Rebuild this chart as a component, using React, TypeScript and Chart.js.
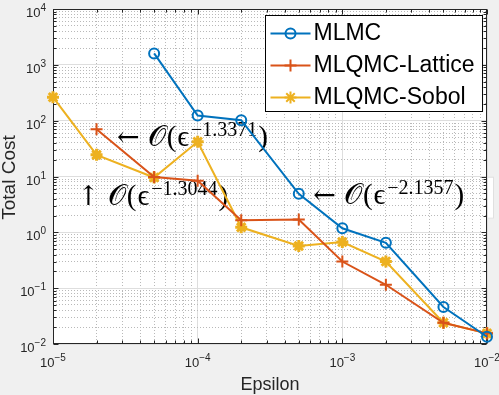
import React, { useEffect, useRef } from 'react';
import { Chart, registerables } from 'chart.js';
Chart.register(...registerables);

// ---------------- data ----------------
const MLMC_EPS = [5e-5, 1e-4, 2e-4, 5e-4, 1e-3, 2e-3, 5e-3, 1e-2];
const MLMC_COST = [1600, 124, 102, 4.9, 1.18, 0.65, 0.046, 0.0135];
const LATTICE_EPS = [2e-5, 5e-5, 1e-4, 2e-4, 5e-4, 1e-3, 2e-3, 5e-3, 1e-2];
const LATTICE_COST = [70, 9.8, 8.4, 1.65, 1.7, 0.3, 0.115, 0.024, 0.0155];
const SOBOL_EPS = [1e-5, 2e-5, 5e-5, 1e-4, 2e-4, 5e-4, 1e-3, 2e-3, 5e-3, 1e-2];
const SOBOL_COST = [263, 24.4, 9.6, 42, 1.23, 0.57, 0.67, 0.3, 0.024, 0.0155];

const SERIES_LABELS = ['MLMC', 'MLQMC-Lattice', 'MLQMC-Sobol'];
const SERIES_COLORS = ['#0072BD', '#D95319', '#EDB120'];
const SERIES_MARKERS = ['circle', 'cross', 'star'];

const X_EXP_MIN = -5;
const X_EXP_MAX = -2;
const Y_EXP_MIN = -2;
const Y_EXP_MAX = 4;
const X_LABEL = 'Epsilon';
const Y_LABEL = 'Total Cost';

const ANNOTATIONS = [
  { arrow: '\u2190', exponent: '\u22121.3371', eps: 2.77e-5, cost: 35 },
  { arrow: '\u2191', exponent: '\u22121.3044', eps: 1.47e-5, cost: 3.13 },
  { arrow: '\u2190', exponent: '\u22122.1357', eps: 6.3e-4, cost: 3.26 },
];

// ---------------- helpers ----------------
const AXIS_COLOR = '#262626';
const SANS = '"Liberation Sans", Arial, Helvetica, sans-serif';
const SERIF = '"Liberation Serif", "DejaVu Serif", serif';

function logTicks(minExp: number, maxExp: number) {
  const t: { value: number }[] = [];
  for (let e = minExp; e < maxExp; e++) {
    for (let s = 1; s < 10; s++) t.push({ value: parseFloat((s * Math.pow(10, e)).toPrecision(6)) });
  }
  t.push({ value: Math.pow(10, maxExp) });
  return t;
}
function isDecade(v: number) {
  const l = Math.log10(v);
  return Math.abs(l - Math.round(l)) < 1e-6;
}
function expText(e: number) {
  return e < 0 ? '\u2212' + Math.abs(e) : String(e);
}

function drawMarker(ctx: CanvasRenderingContext2D, style: string, x: number, y: number, r: number) {
  ctx.beginPath();
  if (style === 'circle') {
    ctx.arc(x, y, r, 0, Math.PI * 2);
  } else if (style === 'cross') {
    ctx.moveTo(x - r, y); ctx.lineTo(x + r, y);
    ctx.moveTo(x, y - r); ctx.lineTo(x, y + r);
  } else {
    const d = r * Math.SQRT1_2;
    ctx.moveTo(x - r, y); ctx.lineTo(x + r, y);
    ctx.moveTo(x, y - r); ctx.lineTo(x, y + r);
    ctx.moveTo(x - d, y - d); ctx.lineTo(x + d, y + d);
    ctx.moveTo(x - d, y + d); ctx.lineTo(x + d, y - d);
  }
  ctx.stroke();
}

const figurePlugin = {
  id: 'matlabFigure',
  beforeDraw(chart: any) {
    const { ctx, chartArea: a } = chart;
    ctx.save();
    ctx.fillStyle = '#ffffff';
    ctx.fillRect(a.left, a.top, a.right - a.left, a.bottom - a.top);
    ctx.restore();
  },
  beforeDatasetsDraw(chart: any) {
    const { ctx, chartArea: a, scales } = chart;
    const xs = scales.x, ys = scales.y;
    ctx.save();

    // annotations (behind the data lines)
    ANNOTATIONS.forEach((an, i) => {
      let cx = xs.getPixelForValue(an.eps);
      const by = ys.getPixelForValue(an.cost);
      ctx.fillStyle = '#000';
      ctx.textBaseline = 'alphabetic';
      ctx.textAlign = 'left';
      const parts: [string, string, number, number][] = [
        [an.arrow, `27px "DejaVu Serif", serif`, 0, 8],
        ['\uD835\uDCAA', `29px ${SERIF}`, 0, 1],
        ['(', `29px ${SERIF}`, 0, 1],
        ['\u03F5', `29px ${SERIF}`, 0, 2],
        [an.exponent, `20px ${SERIF}`, -10, 1],
        [')', `29px ${SERIF}`, 0, 0],
      ];
      parts.forEach(([s, f, dy, gap]) => {
        ctx.font = f;
        ctx.fillText(s, cx, by + dy);
        cx += ctx.measureText(s).width + gap;
      });
      if (i === 2) {
        // the text box sticks out past the right axis edge
        ctx.fillStyle = '#ffffff';
        ctx.fillRect(a.right + 1, by - 26, 6, 41);
        ctx.strokeStyle = '#e0e0e0';
        ctx.lineWidth = 1;
        ctx.strokeRect(a.right + 0.5, by - 26.5, 6, 41);
      }
    });

    // axes box
    ctx.strokeStyle = AXIS_COLOR;
    ctx.lineWidth = 1;
    const L = Math.round(a.left) + 0.5, R = Math.round(a.right) - 0.5;
    const T = Math.round(a.top) + 0.5, B = Math.round(a.bottom) - 0.5;
    ctx.strokeRect(L, T, R - L, B - T);

    // inner tick marks on all four sides
    ctx.beginPath();
    xs.ticks.forEach((t: any) => {
      const p = Math.round(xs.getPixelForValue(t.value)) + 0.5;
      const len = isDecade(t.value) ? 5 : 3;
      ctx.moveTo(p, B); ctx.lineTo(p, B - len);
      ctx.moveTo(p, T); ctx.lineTo(p, T + len);
    });
    ys.ticks.forEach((t: any) => {
      const p = Math.round(ys.getPixelForValue(t.value)) + 0.5;
      const len = isDecade(t.value) ? 5 : 3;
      ctx.moveTo(L, p); ctx.lineTo(L + len, p);
      ctx.moveTo(R, p); ctx.lineTo(R - len, p);
    });
    ctx.stroke();

    // tick labels
    ctx.fillStyle = AXIS_COLOR;
    ctx.textBaseline = 'alphabetic';
    ctx.textAlign = 'left';
    for (let e = X_EXP_MIN; e <= X_EXP_MAX; e++) {
      const p = xs.getPixelForValue(Math.pow(10, e));
      ctx.font = `13px ${SANS}`;
      const w1 = ctx.measureText('10').width;
      ctx.font = `10px ${SANS}`;
      const w2 = ctx.measureText(expText(e)).width;
      const x0 = p - (w1 + w2) / 2;
      ctx.font = `13px ${SANS}`;
      ctx.fillText('10', x0, a.bottom + 23);
      ctx.font = `10px ${SANS}`;
      ctx.fillText(expText(e), x0 + w1, a.bottom + 17);
    }
    for (let e = Y_EXP_MIN; e <= Y_EXP_MAX; e++) {
      const p = ys.getPixelForValue(Math.pow(10, e));
      ctx.font = `10px ${SANS}`;
      const w2 = ctx.measureText(expText(e)).width;
      ctx.font = `13px ${SANS}`;
      const w1 = ctx.measureText('10').width;
      const xr = a.left - 7;
      ctx.fillText('10', xr - w2 - w1, p + 8);
      ctx.font = `10px ${SANS}`;
      ctx.fillText(expText(e), xr - w2, p + 2);
    }

    // axis titles
    ctx.font = `18px ${SANS}`;
    ctx.textAlign = 'center';
    ctx.fillText(X_LABEL, (a.left + a.right) / 2, a.bottom + 46);
    ctx.save();
    ctx.font = `19px ${SANS}`;
    ctx.translate(a.left - 38, (a.top + a.bottom) / 2 + 1);
    ctx.rotate(-Math.PI / 2);
    ctx.fillText(Y_LABEL, 0, 0);
    ctx.restore();

    ctx.restore();
  },
  afterDraw(chart: any) {
    const { ctx, chartArea: a } = chart;
    const ds = chart.data.datasets;
    ctx.save();
    ctx.font = `23px ${SANS}`;
    const maxW = Math.max(...ds.map((d: any) => ctx.measureText(d.label).width));
    const rowH = 32;
    const boxW = 48 + maxW + 8;
    const boxH = rowH * ds.length;
    const bx = Math.round(a.right - 5 - boxW) + 0.5;
    const by = Math.round(a.top + 6) + 0.5;
    ctx.fillStyle = '#ffffff';
    ctx.fillRect(bx, by, boxW, boxH);
    ctx.strokeStyle = '#000';
    ctx.lineWidth = 1;
    ctx.strokeRect(bx, by, boxW, boxH);
    ds.forEach((d: any, i: number) => {
      const cy = by + rowH * i + rowH / 2 + 2;
      ctx.strokeStyle = d.borderColor;
      ctx.lineWidth = 2;
      ctx.beginPath();
      ctx.moveTo(bx + 5, cy); ctx.lineTo(bx + 45, cy);
      ctx.stroke();
      drawMarker(ctx, d.pointStyle, bx + 25, cy, d.pointStyle === 'circle' ? 5 : 6);
      ctx.fillStyle = '#000';
      ctx.textBaseline = 'middle';
      ctx.textAlign = 'left';
      ctx.fillText(d.label, bx + 48, cy);
    });
    ctx.restore();
  },
};

function makeSeries(i: number, xs: number[], ys: number[]) {
  const style = SERIES_MARKERS[i];
  return {
    label: SERIES_LABELS[i],
    data: xs.map((x, k) => ({ x, y: ys[k] })),
    borderColor: SERIES_COLORS[i],
    backgroundColor: 'rgba(0,0,0,0)',
    borderWidth: 2,
    pointStyle: style,
    pointRadius: style === 'circle' ? 5 : 6,
    pointBorderWidth: style === 'star' ? 3 : 2,
    pointBorderColor: SERIES_COLORS[i],
    pointBackgroundColor: 'rgba(0,0,0,0)',
    tension: 0,
    clip: false as any,
  };
}

function gridOpts() {
  return {
    color: (c: any) => (c.tick && isDecade(c.tick.value) ? 'rgb(222,222,222)' : 'rgb(185,185,185)'),
    lineWidth: 1,
    drawTicks: false,
  };
}
function borderOpts() {
  return {
    display: false,
    dash: (c: any) => (c.tick && isDecade(c.tick.value) ? [] : [1, 2]),
  };
}

export default function App() {
  const ref = useRef<HTMLCanvasElement>(null);
  useEffect(() => {
    document.body.style.margin = '0';
    const chart = new Chart(ref.current as HTMLCanvasElement, {
      type: 'line',
      data: {
        datasets: [
          makeSeries(0, MLMC_EPS, MLMC_COST),
          makeSeries(1, LATTICE_EPS, LATTICE_COST),
          makeSeries(2, SOBOL_EPS, SOBOL_COST),
        ] as any,
      },
      options: {
        responsive: false,
        animation: false,
        devicePixelRatio: 1,
        layout: { padding: { left: 53, right: 12, top: 7, bottom: 51 } },
        plugins: { legend: { display: false }, tooltip: { enabled: false } },
        scales: {
          x: {
            type: 'logarithmic',
            min: Math.pow(10, X_EXP_MIN),
            max: Math.pow(10, X_EXP_MAX),
            afterBuildTicks: (s: any) => { s.ticks = logTicks(X_EXP_MIN, X_EXP_MAX); },
            ticks: { display: false },
            grid: gridOpts() as any,
            border: borderOpts() as any,
          },
          y: {
            type: 'logarithmic',
            min: Math.pow(10, Y_EXP_MIN),
            max: Math.pow(10, Y_EXP_MAX),
            afterBuildTicks: (s: any) => { s.ticks = logTicks(Y_EXP_MIN, Y_EXP_MAX); },
            ticks: { display: false },
            grid: gridOpts() as any,
            border: borderOpts() as any,
          },
        },
      },
      plugins: [figurePlugin as any],
    });
    return () => chart.destroy();
  }, []);
  return (
    <div style={{ width: 499, height: 395, background: '#f0f0f0' }}>
      <canvas ref={ref} width={499} height={395} style={{ display: 'block' }} />
    </div>
  );
}
